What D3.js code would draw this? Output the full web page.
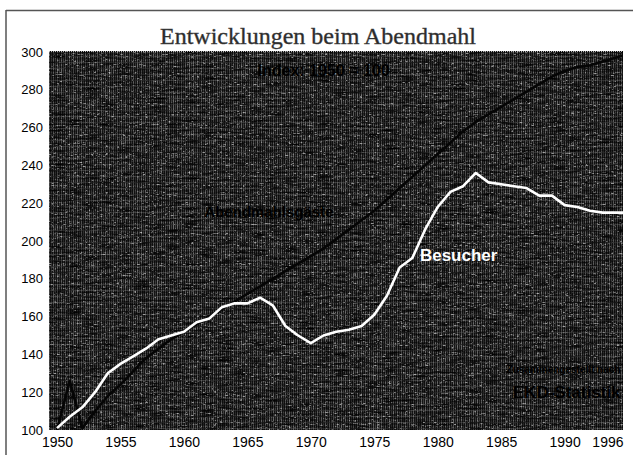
<!DOCTYPE html>
<html><head><meta charset="utf-8">
<script src="https://cdn.jsdelivr.net/npm/d3@7"></script>
<style>html,body{margin:0;padding:0;background:#fff;}svg{display:block;}</style>
</head><body>
<svg id="c" width="635" height="455"></svg>
<script>
const years = d3.range(1950, 1996);
const besucher = [101,107,112,120,130,135,139,143,148,150,152,157,159,165,167,167,170,166,155,150,146,150,152,153,155,161,171,186,191,206,218,226,229,236,231,230,229,228,224,224,219,218,216,215,215,215];
const gaeste   = [100,126,101,110,118,124,131,138,143,148,152,156,160,164,168,172,176,180,184,188,192,196,201,206,211,216,222,228,234,240,246,252,258,263,267,271,275,279,283,287,290,292,293,295,297,299];
const yTicks = [100,120,140,160,180,200,220,240,260,280,300];
const xTicks = [1950,1955,1960,1965,1970,1975,1980,1985,1990];
const xTickLabels = ["1950","1955","1960","1965","1970","1975","1980","1985","1990"];
const lastLabel = "1996";
const title = "Entwicklungen beim Abendmahl";

const svg = d3.select("#c");
const L = 49, R = 623, T = 51, B = 430;
const x = d3.scaleLinear().domain([1949.37, 1994.6]).range([L, R]);
const y = d3.scaleLinear().domain([100, 300]).range([B, T + 1]);

// frame
svg.append("line").attr("x1",6).attr("x2",633).attr("y1",10.5).attr("y2",10.5).attr("stroke","#555").attr("stroke-width",1.5);
svg.append("line").attr("x1",6).attr("x2",6).attr("y1",10).attr("y2",455).attr("stroke","#555").attr("stroke-width",1.5);

// texture
const defs = svg.append("defs");
const pat = defs.append("pattern").attr("id","tex").attr("patternUnits","userSpaceOnUse").attr("width",4).attr("height",6);
pat.append("rect").attr("width",4).attr("height",6).attr("fill","#161616");
pat.append("rect").attr("x",1).attr("width",1).attr("height",6).attr("fill","#6a6a6a");
pat.append("rect").attr("x",3).attr("width",1).attr("height",6).attr("fill","#404040");
pat.append("rect").attr("y",2).attr("width",4).attr("height",1).attr("fill","#555").attr("opacity",0.5);
const f = defs.append("filter").attr("id","noise").attr("x",0).attr("y",0).attr("width","100%").attr("height","100%");
f.append("feTurbulence").attr("type","fractalNoise").attr("baseFrequency","0.06 0.5").attr("numOctaves",2).attr("seed",3).attr("result","n");
f.append("feColorMatrix").attr("type","matrix").attr("values","0 0 0 0 0  0 0 0 0 0  0 0 0 0 0  0 0 0 1.8 -0.55");
const f2 = defs.append("filter").attr("id","speck").attr("x",0).attr("y",0).attr("width","100%").attr("height","100%");
f2.append("feTurbulence").attr("type","fractalNoise").attr("baseFrequency","0.35 0.9").attr("numOctaves",1).attr("seed",7);
f2.append("feColorMatrix").attr("type","matrix").attr("values","0 0 0 0 1  0 0 0 0 1  0 0 0 0 1  6 0 0 0 -3.6");
const clip = defs.append("clipPath").attr("id","pc");
clip.append("rect").attr("x",L).attr("y",T).attr("width",R-L).attr("height",B-T);

svg.append("rect").attr("x",L).attr("y",T).attr("width",R-L).attr("height",B-T).attr("fill","url(#tex)");
svg.append("rect").attr("x",L).attr("y",T).attr("width",R-L).attr("height",B-T).attr("fill","#000").attr("filter","url(#noise)");
svg.append("rect").attr("x",L).attr("y",T).attr("width",R-L).attr("height",B-T).attr("fill","#fff").attr("filter","url(#speck)").attr("opacity",0.55);
svg.append("line").attr("x1",L).attr("x2",R).attr("y1",T+0.5).attr("y2",T+0.5).attr("stroke","#bbb").attr("stroke-dasharray","1,1");

// title
svg.append("text").attr("x",318).attr("y",44).attr("text-anchor","middle")
  .attr("font-family","Liberation Serif, Times New Roman, serif").attr("font-size",24)
  .attr("fill","#2a2a2a").attr("stroke","#444").attr("stroke-width",0.4).text(title);

// axes
const yAxis = d3.axisLeft(y).tickValues(yTicks).tickSize(0).tickPadding(6);
const gy = svg.append("g").attr("transform",`translate(${L},0)`).call(yAxis);
gy.select(".domain").remove();
gy.selectAll("text").attr("font-family","Liberation Sans, Arial, sans-serif").attr("font-size",13).attr("fill","#000");

const xAxis = d3.axisBottom(x).tickValues(xTicks).tickSize(0).tickPadding(7).tickFormat((d,i)=>xTickLabels[i]);
const gx = svg.append("g").attr("transform",`translate(0,${B})`).call(xAxis);
gx.select(".domain").remove();
gx.selectAll("text").attr("font-family","Liberation Sans, Arial, sans-serif").attr("font-size",14).attr("fill","#000");
const gx2 = svg.append("g").attr("transform",`translate(0,${B})`).call(d3.axisBottom(x).tickValues([x.domain()[1]]).tickSize(0).tickPadding(7).tickFormat(()=>lastLabel));
gx2.select(".domain").remove();
gx2.selectAll("text").attr("text-anchor","end").attr("font-family","Liberation Sans, Arial, sans-serif").attr("font-size",14).attr("fill","#000");

// lines
const line = d3.line().x((d,i)=>x(years[i])).y(d=>y(d)).curve(d3.curveLinear);
const g = svg.append("g").attr("clip-path","url(#pc)");
g.append("path").datum(gaeste).attr("d",line).attr("fill","none").attr("stroke","#050505").attr("stroke-width",2.6).attr("stroke-linejoin","round");
g.append("path").datum(besucher).attr("d",line).attr("fill","none").attr("stroke","#fff").attr("stroke-width",2.6).attr("stroke-linejoin","round");

// labels
const lab = (t,xx,yy,fs,fill,anchor) => svg.append("text").attr("x",xx).attr("y",yy).attr("text-anchor",anchor||"start")
  .attr("font-family","Liberation Sans, Arial, sans-serif").attr("font-weight","bold").attr("font-size",fs).attr("fill",fill).text(t);
lab("Index: 1950 = 100", x(1965.8), y(287.5), 16, "#000");
lab("Abendmahlsgäste", x(1961.6), y(212.5), 15, "#000");
lab("Besucher", x(1978.6), y(189.5), 17, "#fff");
lab("Zusammengestellt nach", x(1994.4), y(130), 10, "#000", "end");
lab("EKD-Statistik", x(1994.4), y(117), 17, "#000", "end");
</script>
</body></html>
